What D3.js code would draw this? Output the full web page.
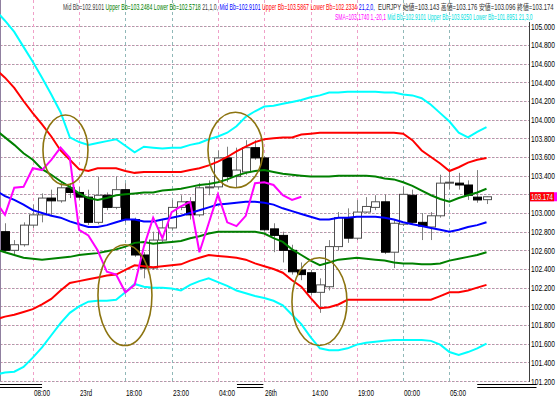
<!DOCTYPE html>
<html>
<head>
<meta charset="utf-8">
<script src="https://cdn.jsdelivr.net/npm/d3@7"></script>
<style>
  body { margin: 0; background: #fff; overflow: hidden; }
  svg { display: block; }
</style>
</head>
<body>
<div id="chart"></div>
<script>
// --- Price data (EURJPY, one entry per bar) ---
const opens  = [102.80,102.60,102.66,102.87,102.98,103.16,103.13,103.27,103.22,103.17,102.90,103.19,103.06,103.25,102.93,102.55,102.41,102.71,102.84,103.06,103.12,102.98,103.27,103.28,103.59,103.39,103.44,103.70,103.59,102.83,102.76,102.60,102.39,102.36,102.15,102.21,102.64,102.95,102.73,103.01,103.06,103.12,102.58,102.88,103.19,102.90,102.85,102.97,103.32,103.32,103.30,103.17,103.143];
const highs  = [102.89,102.71,102.90,103.09,103.21,103.25,103.33,103.32,103.28,103.25,103.39,103.22,103.39,103.32,102.95,102.58,102.80,102.93,103.14,103.19,103.17,103.32,103.35,103.67,103.71,103.70,103.78,103.78,103.61,102.89,102.80,102.66,102.47,102.39,102.30,102.71,103.01,103.05,103.14,103.17,103.19,103.20,102.93,103.28,103.25,103.00,103.01,103.41,103.44,103.43,103.35,103.46,103.176];
const lows   = [102.58,102.56,102.64,102.84,102.90,102.98,103.11,103.16,103.14,102.87,102.88,103.03,103.04,102.90,102.53,102.30,102.39,102.68,102.82,103.03,102.93,102.96,103.19,103.25,103.33,103.27,103.41,103.57,102.80,102.58,102.47,102.34,102.28,102.12,101.93,102.17,102.60,102.68,102.71,103.00,103.03,102.56,102.41,102.86,102.88,102.71,102.71,102.95,103.25,103.25,103.14,103.11,103.096];
const closes = [102.60,102.66,102.87,102.98,103.16,103.13,103.27,103.22,103.17,102.90,103.19,103.06,103.25,102.93,102.55,102.41,102.71,102.84,103.06,103.12,102.98,103.27,103.28,103.59,103.39,103.46,103.70,103.59,102.82,102.76,102.60,102.37,102.34,102.15,102.23,102.64,102.95,102.73,103.01,103.07,103.12,102.58,102.89,103.20,102.90,102.86,102.97,103.32,103.33,103.30,103.19,103.14,103.174];

// --- Bollinger bands (21 periods; 1, 2 and 3 sigma), first value is the bar just off the left edge ---
const bbMid    = [103.24,103.18,103.14,103.09,103.03,103.00,102.97,102.95,102.91,102.88,102.85,102.85,102.87,102.90,102.93,102.93,102.91,102.91,102.93,102.95,102.97,103.00,103.03,103.06,103.09,103.10,103.11,103.12,103.12,103.11,103.09,103.05,103.02,102.99,102.96,102.93,102.93,102.95,102.95,102.96,102.96,102.96,102.95,102.93,102.90,102.88,102.86,102.84,102.82,102.80,102.82,102.85,102.87,102.90];
const bb1Upper = [103.89,103.81,103.73,103.64,103.57,103.47,103.41,103.34,103.28,103.21,103.16,103.14,103.16,103.19,103.20,103.21,103.22,103.22,103.24,103.25,103.26,103.28,103.30,103.31,103.33,103.36,103.40,103.43,103.45,103.46,103.44,103.42,103.41,103.40,103.39,103.39,103.39,103.40,103.40,103.40,103.40,103.39,103.37,103.36,103.33,103.29,103.24,103.19,103.15,103.12,103.16,103.19,103.22,103.26];
const bb1Lower = [102.61,102.58,102.55,102.52,102.51,102.50,102.51,102.52,102.53,102.55,102.56,102.57,102.59,102.61,102.64,102.68,102.69,102.67,102.68,102.69,102.70,102.73,102.75,102.78,102.80,102.80,102.80,102.80,102.80,102.78,102.73,102.69,102.61,102.55,102.49,102.44,102.47,102.50,102.51,102.52,102.51,102.50,102.49,102.47,102.46,102.46,102.45,102.45,102.46,102.49,102.51,102.53,102.55,102.58];
const bb2Upper = [104.54,104.45,104.34,104.20,104.07,103.95,103.82,103.67,103.57,103.47,103.45,103.48,103.48,103.48,103.45,103.43,103.44,103.44,103.44,103.44,103.44,103.46,103.48,103.51,103.55,103.60,103.66,103.71,103.76,103.79,103.80,103.81,103.81,103.84,103.85,103.86,103.86,103.86,103.86,103.86,103.86,103.86,103.86,103.86,103.85,103.78,103.67,103.60,103.53,103.45,103.49,103.54,103.57,103.59];
const bb2Lower = [101.86,101.89,101.91,101.94,101.97,102.02,102.08,102.17,102.25,102.27,102.29,102.31,102.33,102.34,102.39,102.44,102.43,102.42,102.43,102.44,102.45,102.49,102.52,102.55,102.54,102.53,102.52,102.50,102.46,102.43,102.40,102.36,102.28,102.21,102.09,101.98,101.99,102.02,102.07,102.07,102.07,102.07,102.07,102.07,102.07,102.07,102.07,102.07,102.11,102.15,102.15,102.17,102.20,102.23];
const bb3Upper = [105.17,105.06,104.94,104.78,104.62,104.45,104.27,104.08,103.81,103.76,103.73,103.75,103.77,103.79,103.72,103.65,103.71,103.70,103.69,103.70,103.70,103.73,103.75,103.79,103.82,103.86,103.93,104.03,104.09,104.14,104.15,104.17,104.19,104.21,104.24,104.26,104.29,104.29,104.30,104.30,104.30,104.30,104.29,104.29,104.27,104.26,104.23,104.16,104.07,103.98,103.86,103.81,103.87,103.92];
const bb3Lower = [101.27,101.29,101.30,101.35,101.45,101.56,101.69,101.82,101.93,102.00,102.05,102.06,102.06,102.07,102.15,102.24,102.21,102.20,102.20,102.19,102.17,102.23,102.27,102.30,102.26,102.22,102.17,102.14,102.11,102.09,102.06,102.01,101.91,101.81,101.67,101.55,101.53,101.53,101.55,101.59,101.61,101.62,101.63,101.64,101.64,101.64,101.64,101.63,101.59,101.51,101.48,101.51,101.55,101.60];

// SMA(1) shifted -20 bars (lagging close), also starting one bar left of the first candle
const lagSpan = [103.12,102.98,103.27,103.28,103.48,103.46,103.57,103.70,103.59,102.82,102.76,102.60,102.37,102.34,102.15,102.23,102.64,102.95,102.73,103.01,103.07,103.12,102.58,102.89,103.20,102.90,102.86,102.97,103.32,103.33,103.30,103.19,103.14,103.174];
const lineStartBar = -1;

// --- Axes ---
const priceTicks = [101.2,101.4,101.6,101.8,102.0,102.2,102.4,102.6,102.8,103.0,103.2,103.4,103.6,103.8,104.0,104.2,104.4,104.6,104.8,105.0];
const timeLabels = ["08:00","23rd","18:00","23:00","04:00","26th","14:00","19:00","00:00","05:00"];
const timeLabelBars = [3,8,13,18,23,28,33,38,43,48];
const sessionMarks = [[-0.55,4.0],[25.05,27.9],[51.0,57.4]];
const lastPrice = 103.174;

// hand-drawn circles: [fromBar, toBar, topPrice, bottomPrice]
const circles = [[4.1,8.96,104.05,103.30],[10.04,15.87,102.66,101.58],[21.92,27.86,104.08,103.27],[30.99,36.93,102.52,101.58]];

// indicator read-outs at the top
const header1 = [
  ["Mid Bb=102.9101 ", "#404040"],
  ["Upper Bb=103.2484 ", "#008000"],
  ["Lower Bb=102.5718 ", "#008000"],
  ["21,1,0, ", "#404040"],
  ["Mid Bb=102.9101 ", "#0000ff"],
  ["Upper Bb=103.5867 ", "#ff0000"],
  ["Lower Bb=102.2334 ", "#ff0000"],
  ["21,2,0,", "#0000ff"]
];
const quoteLine = "EURJPY 始値=103.143 高値=103.176 安値=103.096 終値=103.174";
const header2 = [
  ["SMA=103.1740 ", "#ff00ff"],
  ["1,-20,1 ", "#ff00ff"],
  ["Mid Bb=102.9101 ", "#00e0e0"],
  ["Upper Bb=103.9250 ", "#00e0e0"],
  ["Lower Bb=101.8951 ", "#00e0e0"],
  ["21,3,0", "#00e0e0"]
];

// --- Setup ---
const width = 560, height = 399;
const plotRight = 529, plotBottom = 381;
const font = "'Liberation Sans', Arial, 'Noto Sans CJK JP', sans-serif";

const x = d3.scaleLinear().domain([0, 52]).range([5, 486.5]);
const y = d3.scaleLinear().domain([101.2, 105.0]).range([381, 26.33]);

const svg = d3.select("#chart").append("svg").attr("width", width).attr("height", height);

// text squeezed to a given width (bitmap-like narrow look)
function fitText(g, segs, x0, y0, size, w) {
  const t = g.append("text").attr("font-family", font).attr("font-size", size).attr("xml:space", "preserve");
  segs.forEach(([s, c]) => t.append("tspan").attr("fill", c).text(s));
  const nat = t.node().getComputedTextLength();
  t.attr("transform", `translate(${x0},${y0}) scale(${(w / nat).toFixed(4)},1)`);
  return t;
}

svg.append("defs").append("clipPath").attr("id", "plot")
  .append("rect").attr("x", 0).attr("y", 0).attr("width", plotRight).attr("height", plotBottom);

// grid
const hGrid = svg.append("g");
priceTicks.forEach(p => {
  const yy = Math.round(y(p)) + 0.5;
  hGrid.append("line").attr("x1", 0).attr("x2", plotRight).attr("y1", yy).attr("y2", yy)
    .attr("stroke", "#a8a0a8").attr("stroke-dasharray", "2,2");
  hGrid.append("line").attr("x1", 2).attr("x2", plotRight).attr("y1", yy).attr("y2", yy)
    .attr("stroke", "#f0b0d0").attr("stroke-dasharray", "1,3");
});
const vGridColors = ["#f0a0c8","#f0a0c8","#90b8b8","#90b8b8","#f0a0c8","#f0a0c8","#f0a0c8","#f0a0c8","#90b8b8","#90b8b8"];
timeLabelBars.forEach((b, k) => {
  svg.append("line").attr("x1", Math.round(x(b)) + 0.5).attr("x2", Math.round(x(b)) + 0.5).attr("y1", 0).attr("y2", plotBottom)
    .attr("stroke", vGridColors[k]).attr("stroke-dasharray", "3,3");
});

// left border and right axis line
svg.append("line").attr("x1", 0.5).attr("x2", 0.5).attr("y1", 0).attr("y2", plotBottom).attr("stroke", "#9080a0");
svg.append("line").attr("x1", plotRight + 0.5).attr("x2", plotRight + 0.5).attr("y1", 22).attr("y2", plotBottom + 1).attr("stroke", "#404040");

const plot = svg.append("g").attr("clip-path", "url(#plot)");

// candles
const bars = d3.range(closes.length);
plot.selectAll(".wick").data(bars).join("line")
  .attr("x1", i => Math.round(x(i)) + 0.5).attr("x2", i => Math.round(x(i)) + 0.5)
  .attr("y1", i => y(highs[i])).attr("y2", i => y(lows[i]))
  .attr("stroke", "#808080");
plot.selectAll(".body").data(bars).join("rect")
  .attr("x", i => Math.round(x(i)) - 3.5)
  .attr("width", 8)
  .attr("y", i => y(Math.max(opens[i], closes[i])))
  .attr("height", i => Math.max(1, Math.abs(y(opens[i]) - y(closes[i]))))
  .attr("fill", i => closes[i] >= opens[i] ? "#ffffff" : "#000000")
  .attr("stroke", i => closes[i] >= opens[i] ? "#505050" : "#000000")
  .attr("stroke-width", 1);

// bands
const line = d3.line().x((d, i) => x(i + lineStartBar)).y(d => y(d));
const bandSeries = [
  [bb3Upper, "#00ffff"], [bb3Lower, "#00ffff"],
  [bb2Upper, "#ff0000"], [bb2Lower, "#ff0000"],
  [bb1Upper, "#008000"], [bb1Lower, "#008000"],
  [bbMid, "#0000ff"], [lagSpan, "#ff00ff"]
];
bandSeries.forEach(([vals, col]) => {
  plot.append("path").attr("d", line(vals)).attr("fill", "none").attr("stroke", col).attr("stroke-width", 2);
});

// circles
circles.forEach(([b0, b1, pt, pb]) => {
  plot.append("ellipse")
    .attr("cx", (x(b0) + x(b1)) / 2).attr("cy", (y(pt) + y(pb)) / 2)
    .attr("rx", (x(b1) - x(b0)) / 2).attr("ry", (y(pb) - y(pt)) / 2)
    .attr("fill", "none").attr("stroke", "#8c7410").attr("stroke-width", 1.6);
});

// price axis labels (the one hidden under the last-price tag is skipped)
priceTicks.filter(p => Math.abs(y(p) - y(lastPrice)) > 9).forEach(p => {
  fitText(svg, [[p.toFixed(3), "#000"]], 531, y(p) + 3.5, 9.5, 24);
});
// last price tag
svg.append("rect").attr("x", 530).attr("y", y(lastPrice) - 4.5).attr("width", 27).attr("height", 9).attr("fill", "#ff00ff");
svg.append("rect").attr("x", 530).attr("y", y(lastPrice) - 4.5).attr("width", 24).attr("height", 9).attr("fill", "#ff0000");
fitText(svg, [[lastPrice.toFixed(3), "#d8ffff"]], 531, y(lastPrice) + 3.5, 9.5, 22);

// time labels
timeLabelBars.forEach((b, k) => {
  fitText(svg, [[timeLabels[k], "#000"]], Math.round(x(b)) + 1, 396, 9.5, timeLabels[k].length > 4 ? 16 : 12);
});

// session marks (double lines under the plot)
sessionMarks.forEach(([b0, b1]) => {
  [384, 387].forEach(yy => {
    svg.append("line").attr("x1", x(b0)).attr("x2", x(b1)).attr("y1", yy + 0.5).attr("y2", yy + 0.5).attr("stroke", "#000");
  });
});

// header texts
fitText(svg, header1, 63, 10, 8.5, 312);
fitText(svg, [[quoteLine, "#303030"]], 378, 10, 8.5, 176);
fitText(svg, header2, 335, 20, 8.5, 198);
</script>
</body>
</html>
